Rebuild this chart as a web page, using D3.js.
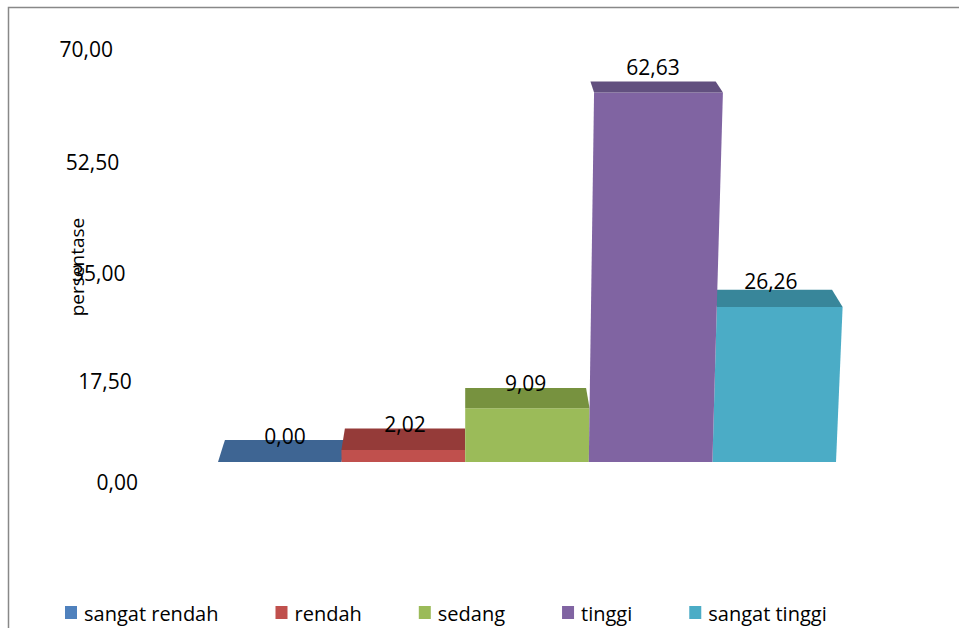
<!DOCTYPE html>
<html>
<head>
<meta charset="UTF-8"/>
<title>persentase</title>
<style>
  body { margin: 0; background: #fff; }
  svg { display: block; }
  text { font-family: "Open Sans", sans-serif; fill: #000; }
  .tick-label { font-size: 21px; }
  .value { font-size: 21px; }
  .legend text { font-size: 20px; }
  .title { font-size: 19px; }
</style>
</head>
<body>
<svg width="959" height="628"></svg>
<script src="https://d3js.org/d3.v7.min.js"></script>
<script>
const categories = ['sangat rendah', 'rendah', 'sedang', 'tinggi', 'sangat tinggi'];
const values = [0.00, 2.02, 9.09, 62.63, 26.26];
const frontColors = ['#4F81BD', '#C0504D', '#9BBB59', '#8064A2', '#4BACC6'];
const topColors = ['#3E6593', '#953B39', '#77923F', '#62507F', '#38869A'];
const tickValues = [0, 17.5, 35, 52.5, 70];

const W = 959, H = 628;
const svg = d3.select('svg');
const fmt = d3.formatLocale({decimal: ',', thousands: '.', grouping: [3], currency: ['', '']}).format('.2f');

// frame
svg.append('path')
  .attr('d', `M8.5,${H} L8.5,7.5 L${W},7.5`)
  .attr('fill', 'none')
  .attr('stroke', '#888')
  .attr('stroke-width', 1.5);

// scales
const baseY = 462;
const cx = 465; // perspective centre
const xScale = d3.scaleBand().domain(categories).range([218, 836]).padding(0);
const yBar = d3.scaleLinear().domain([0, 70]).range([baseY, 49]);
const yAxis = d3.scalePow().exponent(1.05).domain([0, 70]).range([483, 50]);

// simple perspective helpers
const spread = (x, y) => cx + (x - cx) * (1 + 1.15e-4 * (baseY - y));
const back = (x) => cx + (x - cx) * 0.972;
const depth = (y) => 22 - 0.0296 * (baseY - y);

// axis tick labels (no line)
const axisG = svg.append('g');
axisG.selectAll('text')
  .data(tickValues)
  .join('text')
  .attr('class', 'tick-label')
  .attr('x', d => 138 - d / 70 * 25)
  .attr('y', d => yAxis(d))
  .attr('dy', '0.35em')
  .attr('text-anchor', 'end')
  .text(d => fmt(d));

// bars
const order = [0, 1, 2, 4, 3];
const bars = svg.append('g');
order.forEach(i => {
  const c = categories[i];
  const x0 = xScale(c), x1 = x0 + xScale.bandwidth();
  const yt = yBar(values[i]);
  const l = spread(x0, yt), r = spread(x1, yt);
  const d = depth(yt);
  const g = bars.append('g');
  g.append('path')
    .attr('d', `M${x0},${baseY} L${x1},${baseY} L${r},${yt} L${l},${yt} Z`)
    .attr('fill', frontColors[i]);
  g.append('path')
    .attr('d', `M${l},${yt} L${r},${yt} L${back(r)},${yt - d} L${back(l)},${yt - d} Z`)
    .attr('fill', topColors[i]);
});

// value labels
svg.append('g').selectAll('text')
  .data(categories)
  .join('text')
  .attr('class', 'value')
  .attr('x', (c, i) => {
    const yt = yBar(values[i]);
    const x0 = xScale(c), x1 = x0 + xScale.bandwidth();
    return (back(spread(x0, yt)) + back(spread(x1, yt))) / 2;
  })
  .attr('y', (c, i) => {
    const yt = yBar(values[i]);
    return yt - depth(yt) - (3 + 0.03 * (baseY - yt));
  })
  .attr('dy', '0.35em')
  .attr('text-anchor', 'middle')
  .text((c, i) => fmt(values[i]));

// y title
svg.append('text')
  .attr('class', 'title')
  .attr('transform', 'translate(84,267) rotate(-90)')
  .attr('text-anchor', 'middle')
  .text('persentase');

// legend
const legend = svg.append('g').attr('class', 'legend');
let lx = 65;
categories.forEach((c, i) => {
  legend.append('rect')
    .attr('x', lx).attr('y', 606)
    .attr('width', 12).attr('height', 13)
    .attr('fill', frontColors[i]);
  const t = legend.append('text')
    .attr('x', lx + 19).attr('y', 614)
    .attr('dy', '0.35em')
    .text(c);
  lx += 19 + t.node().getComputedTextLength() + 57;
});
</script>
</body>
</html>
